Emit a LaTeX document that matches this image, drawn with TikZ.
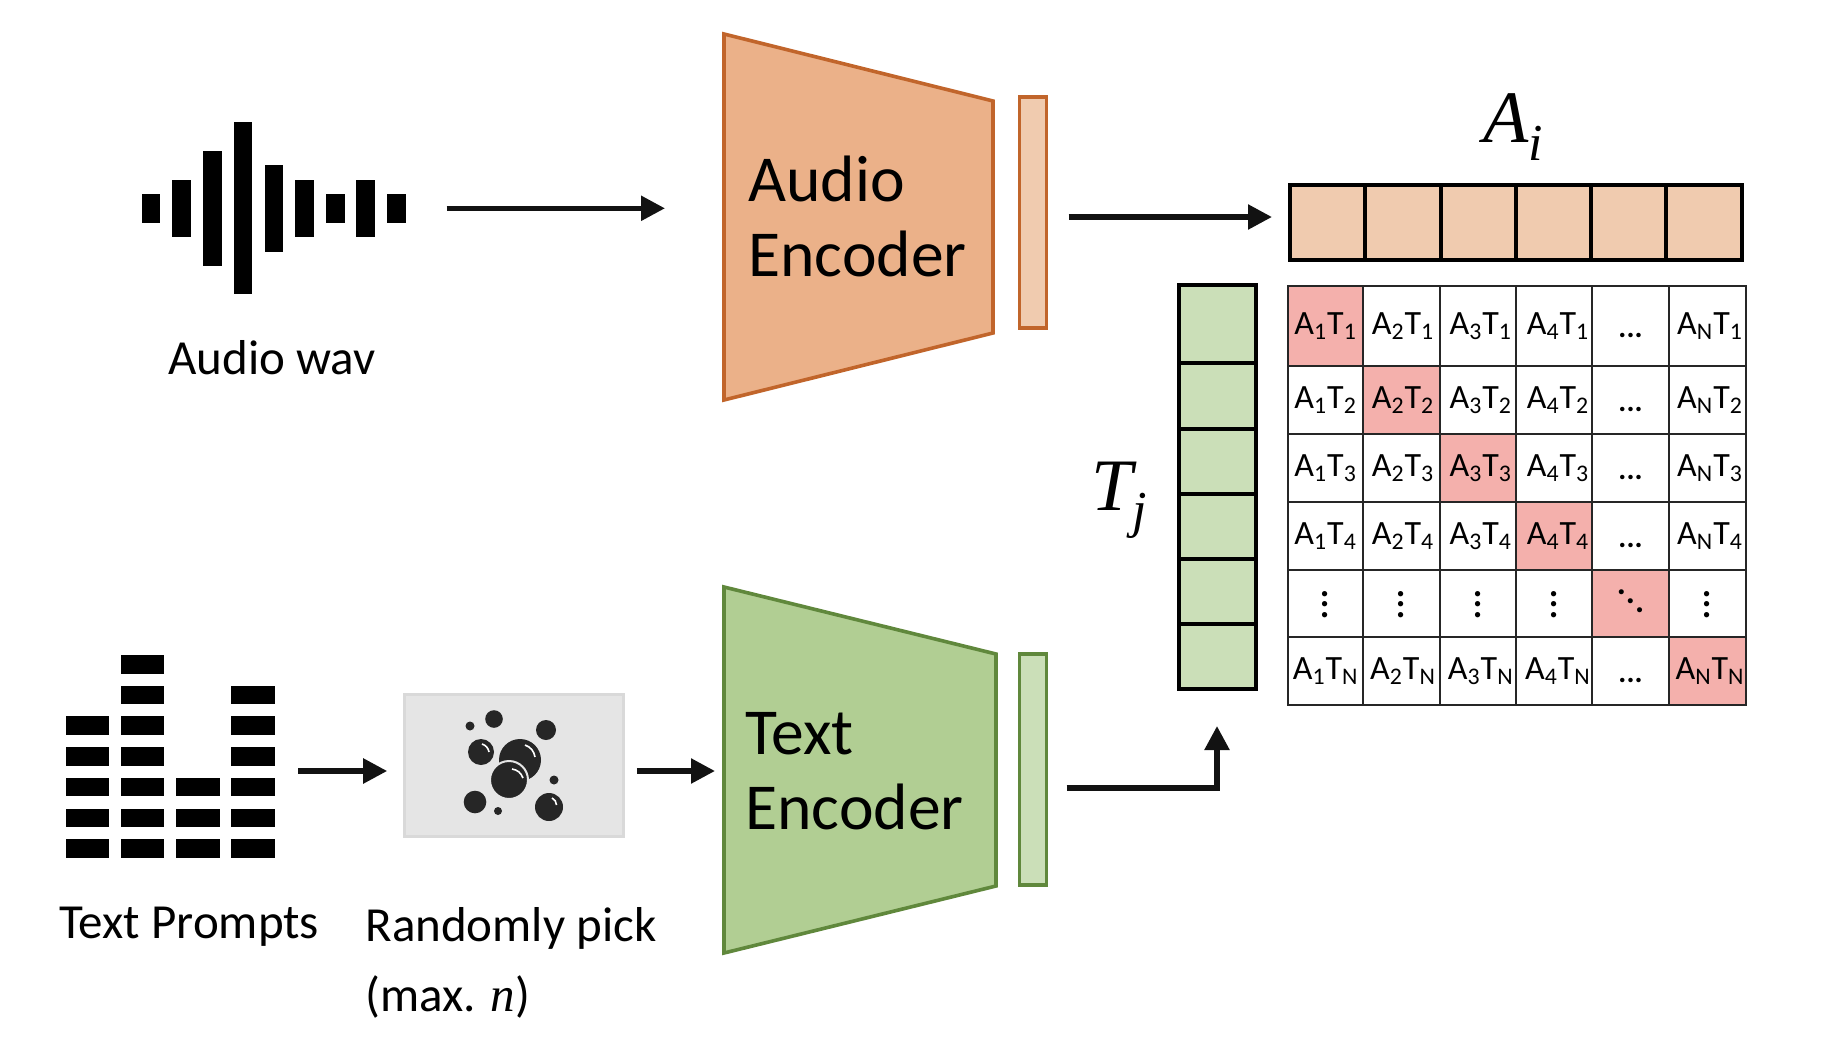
\documentclass[tikz,border=0pt]{standalone}
\usepackage{graphicx}
\usepackage{amsmath}
\usepackage{fontspec}
\setmainfont{Carlito}
\newfontfamily\symbfont{Liberation Serif}
\usetikzlibrary{arrows.meta}
\usetikzlibrary{backgrounds}
\usetikzlibrary{calc}

\definecolor{audiofill}{RGB}{235,177,137}
\definecolor{audioedge}{RGB}{193,101,43}
\definecolor{audiolight}{RGB}{240,203,175}
\definecolor{textfill}{RGB}{177,206,147}
\definecolor{textedge}{RGB}{96,136,60}
\definecolor{textlight}{RGB}{203,223,184}
\definecolor{cellpink}{RGB}{244,176,172}
\definecolor{bubbleink}{RGB}{38,38,38}

\newcommand{\slantdots}{\textbf{\raisebox{9pt}{.}\raisebox{4.5pt}{.}.}}

\tikzset{
    x=0.5pt, y=-0.5pt,
    flow/.style={line width=2.7pt, -{Triangle[length=12pt,width=12pt]}, color=black!93},
    iconbar/.style={fill=black, draw=none},
    extent/.style={draw=none, inner sep=0pt, outer sep=0pt},
    enclabel/.style={font=\fontsize{32.8}{37.5}\selectfont, align=left, inner sep=0pt},
    caption/.style={font=\fontsize{24.5}{35}\selectfont, align=left, inner sep=0pt, anchor=base west},
    vectag/.style={font=\fontsize{37}{40}\selectfont\symbfont\itshape, inner sep=0pt},
    latent/.style={draw=black, line width=2pt, inner sep=0pt, outer sep=0pt, anchor=north west},
    embar/.style={line width=1.6pt, minimum width=13.5pt, minimum height=115.5pt, inner sep=0pt, outer sep=0pt},
    cell/.style={draw=black!85, line width=1pt, inner sep=0pt, outer sep=0pt, anchor=north west,
        font=\fontsize{17}{20}\selectfont, text height=11.5pt, text depth=3pt},
}

\begin{document}
\begin{tikzpicture}
    \useasboundingbox (0,0) rectangle (1822,1060);

    % Audio wav icon
    \node[extent, minimum width=132pt, minimum height=86pt] (waveicon) at (273.5,208.3) {};
    \foreach \bx/\by/\bh in {141.5/194/28.7, 172.4/179.7/57.6, 202.8/151/114.7, 233.6/122.3/172,
        264.5/165.3/86.4, 295/179.7/57.6, 325.8/194/28.7, 356/179.7/57.6, 387/194/28.7}
        \fill[iconbar] (\bx,\by) rectangle ++(18.8,\bh);
    \node[caption] (wavlabel) at (168,374) {Audio wav};

    % Text prompts icon
    \node[extent, minimum width=104.5pt, minimum height=101.5pt] (promptsicon) at (170.2,756.5) {};
    \foreach \bx/\rows in {65.7/{3,4,5,6,7}, 120.8/{1,2,3,4,5,6,7}, 176.3/{5,6,7}, 231.4/{2,3,4,5,6,7}}
        \foreach \r in \rows
            \fill[iconbar] (\bx,{655+(\r-1)*30.7}) rectangle ++(43.2,18.5);
    \node[caption] (promptslabel) at (59,938) {Text Prompts};

    % Random pick box
    \node[draw=black!15, fill=black!10, line width=1.5pt, minimum width=109.5pt, minimum height=71pt,
        inner sep=0pt] (pickbox) at (513.8,765.5) {};
    \foreach \bx/\by/\br in {494/719/8.8, 470/726/4.5, 546/730/10, 481/752/13, 520/760/21,
        554/780/4.5, 475/802/11.3, 498/811/4, 549/807/14}
        \fill[bubbleink] (\bx,\by) circle (\br);
    \fill[bubbleink, draw=black!10, line width=1pt] (509,780) circle (19);
    \foreach \ax/\ay/\bx/\by in {525/745/535/757, 512/769/523/778, 482/744/489/752, 552/798/556.5/805}
        \draw[white, line width=0.8pt] (\ax,\ay) to[bend left=30] (\bx,\by);
    \node[caption] (picklabel) at (365,1011) {Randomly pick\\(max. {\symbfont\itshape n})};

    % Encoders
    \node[extent, minimum width=134.5pt, minimum height=183pt] (audioenc) at (858.5,217) {};
    \node[extent, minimum width=136pt, minimum height=183pt] (textenc) at (860,770) {};
    \begin{scope}[on background layer]
        \draw[fill=audiofill, draw=audioedge, line width=1.8pt, line join=miter]
            (audioenc.north west) -- ([yshift=-33.5pt]audioenc.north east)
            -- ([yshift=33.5pt]audioenc.south east) -- (audioenc.south west) -- cycle;
        \draw[fill=textfill, draw=textedge, line width=1.8pt, line join=miter]
            (textenc.north west) -- ([yshift=-33.5pt]textenc.north east)
            -- ([yshift=33.5pt]textenc.south east) -- (textenc.south west) -- cycle;
    \end{scope}
    \node[enclabel, anchor=base west] (audiotxt) at (748,276) {Audio\\Encoder};
    \node[enclabel, anchor=base west] (texttxt) at (745,829) {Text\\Encoder};

    % Embedding bars
    \node[embar, draw=audioedge, fill=audiolight] (audiobar) at (1033,212.5) {};
    \node[embar, draw=textedge, fill=textlight] (textbar) at (1033,769.5) {};

    % A_i row
    \foreach \i/\ix/\iw in {1/1290/75, 2/1365/75.5, 3/1440.5/75, 4/1515.5/75, 5/1590.5/75.5, 6/1666/76}
        \node[latent, fill=audiolight, minimum width=\iw*0.5pt, minimum height=37.5pt] (ai\i) at (\ix,185) {};
    \node[vectag] (ailabel) at (1514,127) {A\textsubscript{i}};

    % T_j column
    \foreach \j/\jy/\jh in {1/285/78, 2/363/65.5, 3/428.5/65.5, 4/494/65, 5/559/65, 6/624/65}
        \node[latent, fill=textlight, minimum width=38.5pt, minimum height=\jh*0.5pt] (tj\j) at (1178.5,\jy) {};
    \node[vectag] (tjlabel) at (1120,500) {T\textsubscript{j}};

    % Similarity grid
    \foreach \c/\cx/\cw/\cn/\tx in {1/1288/74.5/1/0.4pt, 2/1362.5/77.5/2/1.8pt, 3/1440/76/3/2.8pt, 4/1516/76/4/4pt, 5/1592/77/x/0pt, 6/1669/76.5/N/2.8pt}
        \foreach \r/\ry/\rh/\rn in {1/286/80/1, 2/366/68/2, 3/434/68/3, 4/502/68/4, 5/570/67/x, 6/637/67.5/N} {
            \ifnum\c=\r \def\cellcol{cellpink}\else \def\cellcol{white}\fi
            \node[cell, fill=\cellcol, minimum width=\cw*0.5pt, minimum height=\rh*0.5pt] (m\c\r) at (\cx,\ry) {%
                \ifnum\c=5
                    \ifnum\r=5 \slantdots\else \raisebox{-1.5pt}{\fontsize{15}{15}\selectfont\textbf{...}}\fi
                \else
                    \ifnum\r=5 \raisebox{-2.5pt}{\scalebox{1.3}{\boldmath$\vdots$}}\else \hspace*{\tx}A\textsubscript{\cn}T\textsubscript{\rn}\fi
                \fi};
        }

    % Connectors
    \draw[flow, shorten <=20.5pt, shorten >=29.5pt] (waveicon.east) -- (waveicon.east -| audioenc.west);
    \draw[flow, shorten <=11pt, shorten >=9pt] ([yshift=-2.25pt]audiobar.east) -- ([yshift=-2.25pt]audiobar.east -| ai1.west);
    \draw[flow, shorten <=11.7pt, shorten >=7.8pt] ([yshift=-7.25pt]promptsicon.east) -- ([yshift=-7.25pt]promptsicon.east -| pickbox.west);
    \draw[flow, shorten <=6pt, shorten >=4.5pt] ([yshift=-2.75pt]pickbox.east) -- ([yshift=-2.75pt]pickbox.east -| textenc.west);
    \draw[flow, shorten <=10pt, shorten >=18.5pt] ([yshift=-9.25pt]textbar.east) -| (tj6.south);
\end{tikzpicture}
\end{document}
